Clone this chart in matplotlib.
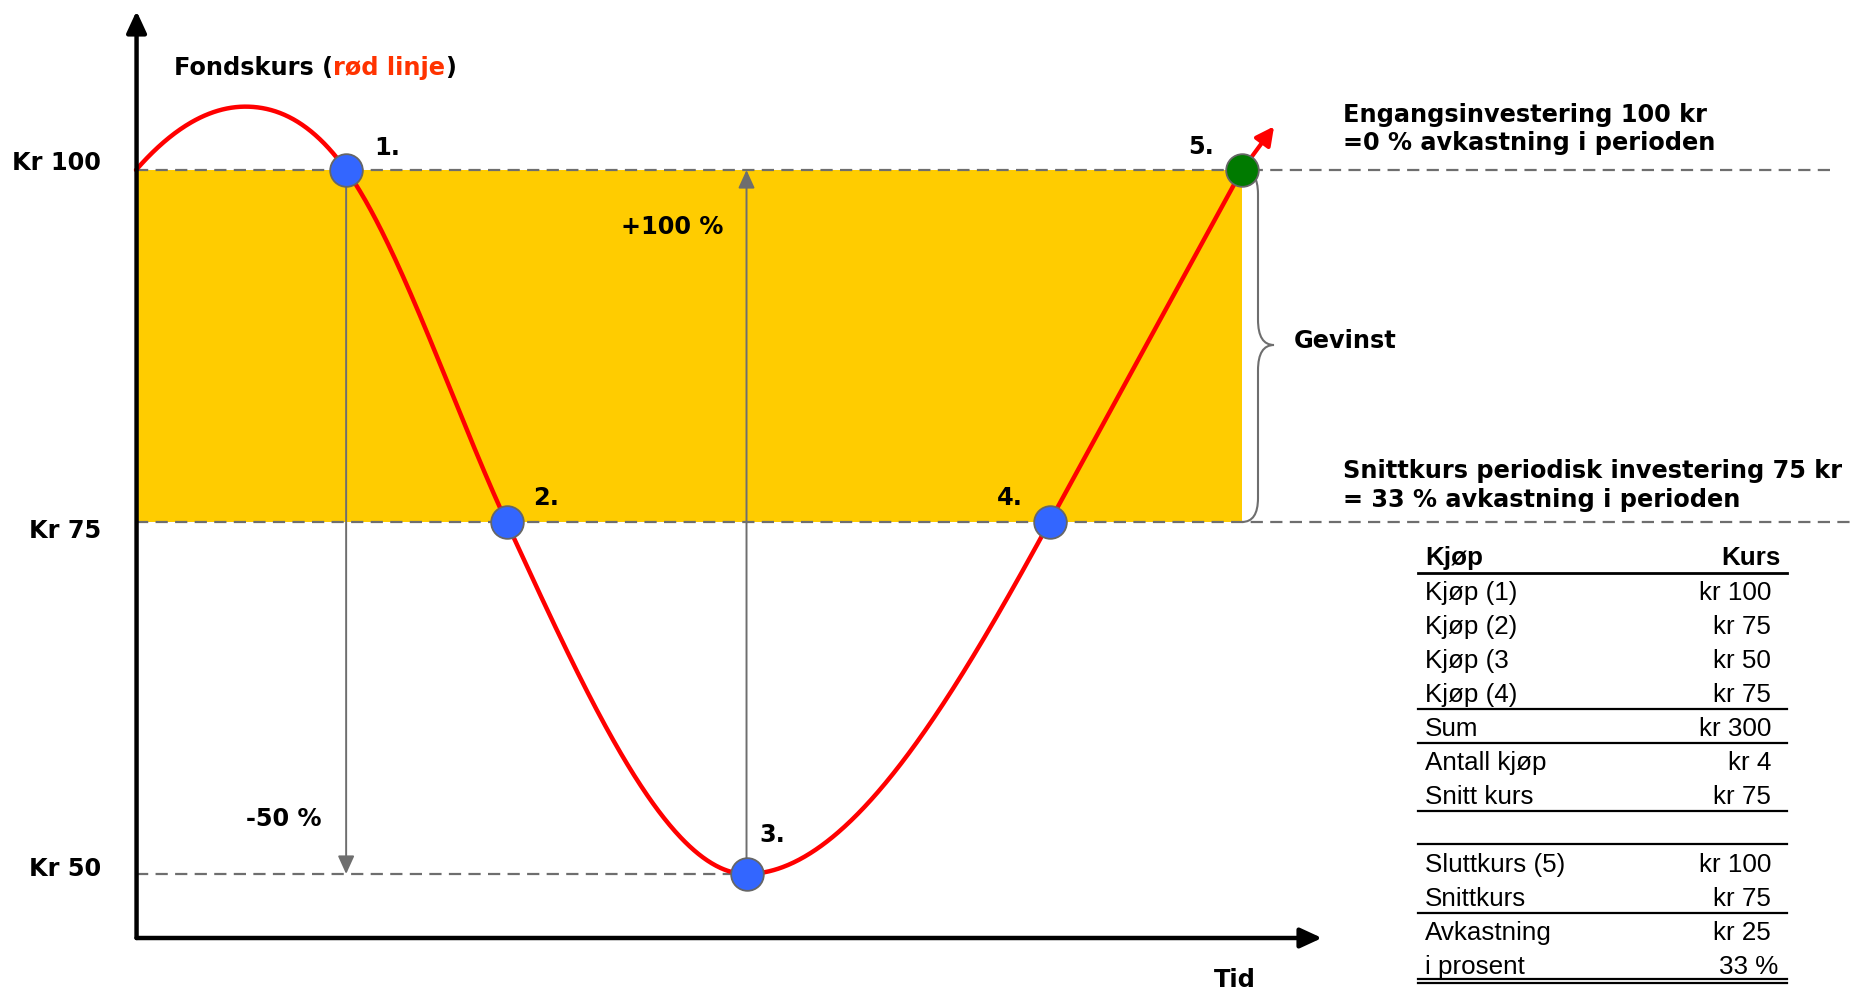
import numpy as np
import matplotlib
matplotlib.use("Agg")
import matplotlib.pyplot as plt
from matplotlib.path import Path
from matplotlib.patches import PathPatch

# ---------------- data ----------------
# key points of the price curve (time units, kr)
# with the slope (kr per time unit) read at each point
curve_t = [0.0, 0.99, 1.90, 3.35, 5.52, 8.26, 10.0]
curve_kr = [100.0, 104.5, 100.0, 75.0, 50.0, 75.0, 100.0]
curve_slope = [9.0, 0.0, -11.0, -17.0, 0.0, 14.4, 14.4]
arrow_end = (10.29, 103.1)

buy_t = [1.90, 3.35, 5.52, 8.26]
buy_kr = [100, 75, 50, 75]
buy_labels = ["1.", "2.", "3.", "4."]
end_t, end_kr, end_label = 10.0, 100, "5."

levels = [100, 75, 50]
level_labels = ["Kr 100", "Kr 75", "Kr 50"]

table_header = ("Kjøp", "Kurs")
table_rows = [("Kjøp (1)", "kr 100"), ("Kjøp (2)", "kr 75"), ("Kjøp (3", "kr 50"),
              ("Kjøp (4)", "kr 75"), ("Sum", "kr 300"), ("Antall kjøp", "kr 4"),
              ("Snitt kurs", "kr 75"), ("", ""), ("Sluttkurs (5)", "kr 100"),
              ("Snittkurs", "kr 75"), ("Avkastning", "kr 25"), ("i prosent", "33 %")]

# ---------------- figure ----------------
W, H = 1856, 991
fig = plt.figure(figsize=(W / 100, H / 100), dpi=100)
ax = fig.add_axes([0, 0, 1, 1])
# pixel mapping: x_px = 136 + t*110.6 ; y_px = 170 + (100-kr)*14.08
X0, SX = 136.0, 110.6
Y0, SY = 170.0, 14.08
ax.set_xlim((0 - X0) / SX, (W - X0) / SX)
ax.set_ylim(100 - (H - Y0) / SY, 100 + Y0 / SY)
ax.axis("off")


def fpx(x, y):
    return x / W, 1 - y / H


BOLD = dict(family="DejaVu Sans", fontweight="bold", fontsize=17.3, color="black")
GRAY = "#6e6e6e"

# yellow band
ax.fill_between([0, end_t], 75, 100, color="#FFCC00", lw=0, zorder=1)

# dashed level lines
dash = (0, (5.5, 3.3))
ax.plot([0, 15.36], [100, 100], color=GRAY, lw=1.6, ls=dash, zorder=2)
ax.plot([0, 15.5], [75, 75], color=GRAY, lw=1.6, ls=dash, zorder=2)
ax.plot([0, buy_t[2]], [50, 50], color=GRAY, lw=1.6, ls=dash, zorder=2)

# gray percentage arrows
ap_gray = dict(arrowstyle="-|>,head_length=0.55,head_width=0.25", color=GRAY,
               lw=1.4, shrinkA=0, shrinkB=0, mutation_scale=20)
ax.annotate("", xy=(buy_t[0], 50), xytext=(buy_t[0], 100), arrowprops=ap_gray, zorder=3)
ax.annotate("", xy=(buy_t[2], 100), xytext=(buy_t[2], 50), arrowprops=ap_gray, zorder=3)


# cubic Hermite curve through the key points with the read slopes
def hermite(x, y, m, xn):
    x = np.asarray(x, float)
    y = np.asarray(y, float)
    m = np.asarray(m, float)
    idx = np.clip(np.searchsorted(x, xn) - 1, 0, len(x) - 2)
    hh = x[idx + 1] - x[idx]
    s = (xn - x[idx]) / hh
    h00 = 2 * s ** 3 - 3 * s ** 2 + 1
    h10 = s ** 3 - 2 * s ** 2 + s
    h01 = -2 * s ** 3 + 3 * s ** 2
    h11 = s ** 3 - s ** 2
    return h00 * y[idx] + h10 * hh * m[idx] + h01 * y[idx + 1] + h11 * hh * m[idx + 1]


tt = np.linspace(curve_t[0], curve_t[-1], 1000)
ax.plot(tt, hermite(curve_t, curve_kr, curve_slope, tt), color="#FF0000", lw=3.2,
        zorder=4, solid_capstyle="round")
ax.annotate("", xy=arrow_end, xytext=(end_t, end_kr),
            arrowprops=dict(arrowstyle="-|>,head_length=0.55,head_width=0.28", color="#FF0000",
                            lw=3.0, shrinkA=0, shrinkB=0, mutation_scale=20), zorder=4)

# axes with arrows
ax_y = 100 - (938 - Y0) / SY
ap_ax = dict(arrowstyle="-|>,head_length=0.65,head_width=0.3", color="black",
             lw=3.2, shrinkA=0, shrinkB=0, mutation_scale=20)
ax.annotate("", xy=(0.005, 100 + (Y0 - 11) / SY), xytext=(0.005, ax_y), arrowprops=ap_ax, zorder=6)
ax.annotate("", xy=((1322 - X0) / SX, ax_y), xytext=(0.005, ax_y), arrowprops=ap_ax, zorder=6)

# markers
ax.plot(buy_t, buy_kr, "o", ms=23.5, mfc="#3366FF", mec="#666666", mew=1.3, zorder=7)
ax.plot([end_t], [end_kr], "o", ms=23.5, mfc="#007A00", mec="#666666", mew=1.3, zorder=7)

# point labels
offs = [(28, 22, "left"), (27, 24, "left"), (13, 39, "left"), (-27, 24, "right")]
for t, k, lab, (dx, dy, ha) in zip(buy_t, buy_kr, buy_labels, offs):
    ax.annotate(lab, (t, k), xytext=(dx, dy), textcoords="offset pixels",
                ha=ha, va="center", zorder=8, **BOLD)
ax.annotate(end_label, (end_t, end_kr), xytext=(-28, 23), textcoords="offset pixels",
            ha="right", va="center", zorder=8, **BOLD)

# percentage labels
ax.annotate("+100 %", (buy_t[2], 100), xytext=(-74, -57), textcoords="offset pixels",
            ha="center", va="center", **BOLD)
ax.annotate("-50 %", (buy_t[0], 50), xytext=(-62, 55), textcoords="offset pixels",
            ha="center", va="center", **BOLD)

# level labels
lvl_dy = [7, -9, 5]
for lv, lab, dy in zip(levels, level_labels, lvl_dy):
    ax.annotate(lab, (0, lv), xytext=(-35, dy), textcoords="offset pixels",
                ha="right", va="center", **BOLD)

# title "Fondskurs (rød linje)"
t1 = fig.text(*fpx(174, 68), "Fondskurs (", ha="left", va="center", **BOLD)
t2 = ax.annotate("rød linje", xy=(1, 0.5), xycoords=t1, va="center", ha="left",
                 **{**BOLD, "color": "#FF3300"})
ax.annotate(")", xy=(1, 0.5), xycoords=t2, va="center", ha="left", **BOLD)

fig.text(*fpx(1235, 980), "Tid", ha="center", va="center", **BOLD)

# brace
bx0 = end_t
bx1 = end_t + (1258 - 1242) / SX
bx2 = end_t + (1274 - 1242) / SX
ym = 100 - (345 - Y0) / SY
verts = [(bx0, 100), (bx1, 100.0), (bx1, 98.3),
         (bx1, ym + 1.8), (bx1, ym), (bx2, ym),
         (bx1, ym), (bx1, ym - 1.8),
         (bx1, 76.7), (bx1, 75), (bx0, 75)]
codes = [Path.MOVETO, Path.CURVE3, Path.CURVE3,
         Path.LINETO, Path.CURVE3, Path.CURVE3,
         Path.CURVE3, Path.CURVE3,
         Path.LINETO, Path.CURVE3, Path.CURVE3]
ax.add_patch(PathPatch(Path(verts, codes), fill=False, ec=GRAY, lw=1.5, zorder=5))
ax.annotate("Gevinst", (bx2, ym), xytext=(20, 4), textcoords="offset pixels",
            ha="left", va="center", **BOLD)

# right side texts
fig.text(*fpx(1343, 115), "Engangsinvestering 100 kr", ha="left", va="center", **BOLD)
fig.text(*fpx(1343, 143), "=0 % avkastning i perioden", ha="left", va="center", **BOLD)
fig.text(*fpx(1343, 471), "Snittkurs periodisk investering 75 kr", ha="left", va="center", **BOLD)
fig.text(*fpx(1343, 500), "= 33 % avkastning i perioden", ha="left", va="center", **BOLD)

# table
TF = dict(family="Liberation Sans", fontsize=18.7, color="black")
tx_l, tx_r = 1425, 1771
fig.text(*fpx(tx_l, 565), table_header[0], ha="left", va="baseline", fontweight="bold", **TF)
fig.text(*fpx(1781, 565), table_header[1], ha="right", va="baseline", fontweight="bold", **TF)
for i, (lab, val) in enumerate(table_rows):
    yy = 600 + 34 * i
    if lab:
        fig.text(*fpx(tx_l, yy), lab, ha="left", va="baseline", **TF)
    if val:
        xr = 1778 if val.endswith("%") else tx_r
        fig.text(*fpx(xr, yy), val, ha="right", va="baseline", **TF)

line_y = [573, 709, 743, 811, 844, 913, 979, 983]
for ly in line_y:
    fig.add_artist(plt.Line2D([1418 / W, 1787 / W], [1 - ly / H, 1 - ly / H],
                              color="black", lw=1.6 if ly != 573 else 2.0))

fig.savefig("out.png", dpi=100)
